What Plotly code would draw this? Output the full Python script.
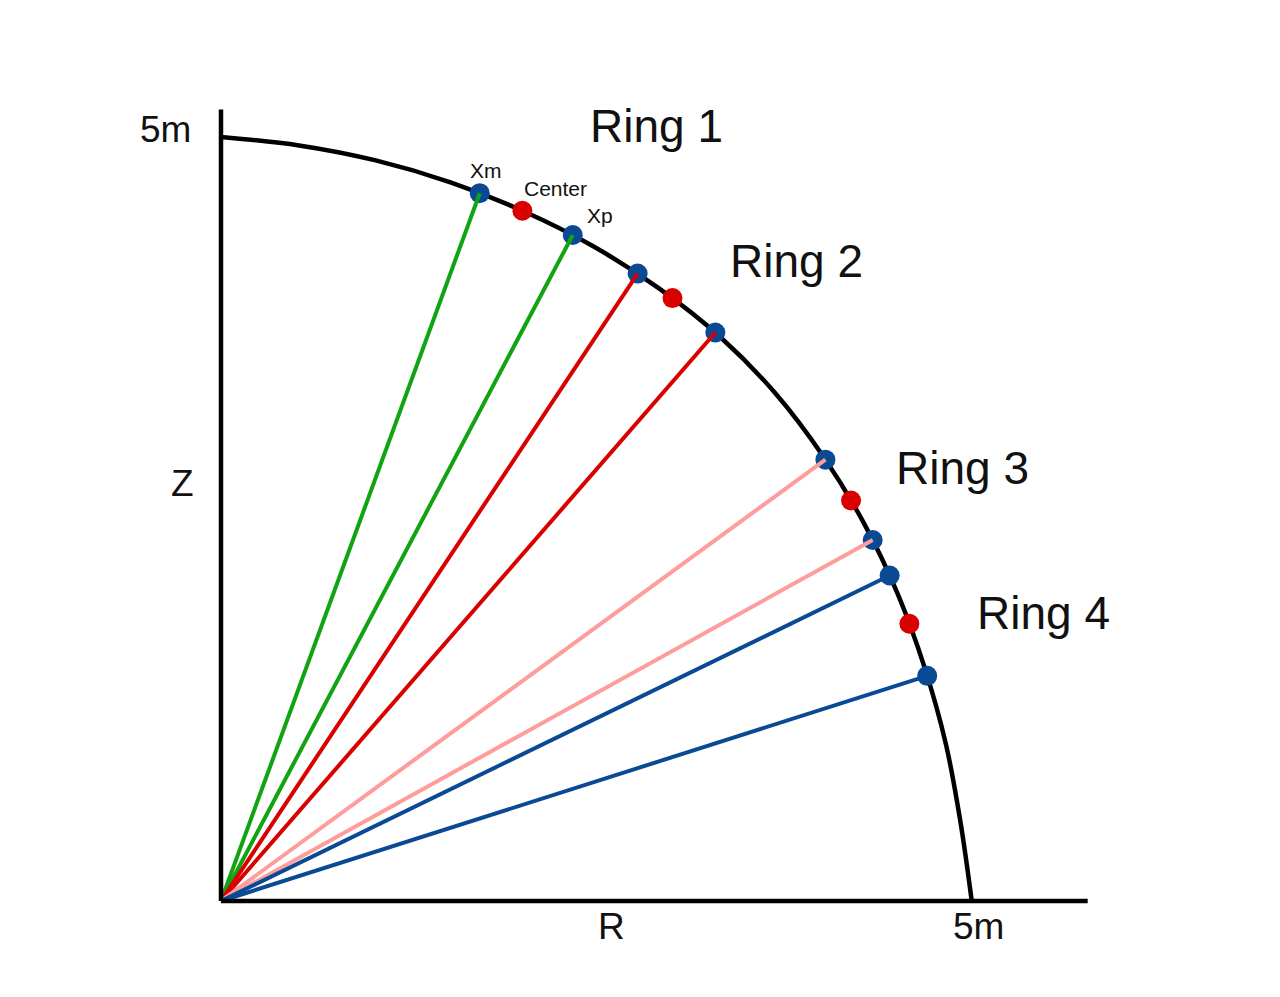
# plot.py
# Quarter-circle ring geometry sketch (R-Z plane) with Plotly

import numpy as np
import plotly.graph_objects as go

# ── data (polar: degrees from R axis, metres) ─
rings = ['Ring 1', 'Ring 2', 'Ring 3', 'Ring 4']

xm_deg = [69.6, 55.96, 35.67, 25.57]     # edge point "Xm"
xm_rad = [4.942, 4.955, 4.953, 4.935]
ctr_deg = [66.05, 52.7, 32.0, 21.6]      # ring centre
ctr_rad = [4.943, 4.960, 4.946, 4.929]
xp_deg = [61.75, 48.5, 28.57, 17.4]      # edge point "Xp"
xp_rad = [4.948, 4.967, 4.940, 4.927]

# nominal 5 m boundary, as drawn
boundary_deg = [90, 84, 78, 72, 66, 60, 54, 48, 42, 36, 30, 24, 18, 12, 6, 0]
boundary_rad = [5.000, 4.972, 4.955, 4.945, 4.943, 4.950, 4.957, 4.967,
                4.966, 4.954, 4.943, 4.933, 4.927, 4.934, 4.950, 4.998]

ray_colors = ['#12a312', '#d90000', '#ff9c9c', '#0a4a94']
EDGE_BLUE = '#0a4a94'
CENTER_RED = '#d90000'
FONT = 'Liberation Sans, Arial, Helvetica, sans-serif'


def to_rz(rad, deg):
    a = np.radians(np.asarray(deg, dtype=float))
    r = np.asarray(rad, dtype=float)
    return r * np.cos(a), r * np.sin(a)


fig = go.Figure()

# ── boundary arc ──────────────────────────────────────────────────
br, bz = to_rz(boundary_rad, boundary_deg)
fig.add_trace(go.Scatter(x=br, y=bz, mode='lines',
                         line=dict(color='black', width=4.5,
                                   shape='spline', smoothing=1.0),
                         hoverinfo='skip', showlegend=False))

# ── edge / centre markers ─────────────────────────────────────────
mr, mz = to_rz(xm_rad, xm_deg)
pr, pz = to_rz(xp_rad, xp_deg)
cr, cz = to_rz(ctr_rad, ctr_deg)
fig.add_trace(go.Scatter(x=np.concatenate([mr, pr]), y=np.concatenate([mz, pz]),
                         mode='markers', marker=dict(color=EDGE_BLUE, size=20),
                         hoverinfo='skip', showlegend=False))
fig.add_trace(go.Scatter(x=cr, y=cz, mode='markers',
                         marker=dict(color=CENTER_RED, size=20),
                         hoverinfo='skip', showlegend=False))

# ── rays from origin to each ring edge ────────────────────────────
for i, (name, col) in enumerate(zip(rings, ray_colors)):
    for er, ez in ((mr[i], mz[i]), (pr[i], pz[i])):
        fig.add_trace(go.Scatter(x=[0, er], y=[0, ez], mode='lines',
                                 line=dict(color=col, width=4),
                                 name=name, hoverinfo='skip', showlegend=False))

# ── axes drawn as plain lines ─────────────────────────────────────
fig.add_shape(type='line', x0=0, y0=0, x1=0, y1=5.18,
              line=dict(color='black', width=4.5))
fig.add_shape(type='line', x0=0, y0=0, x1=5.77, y1=0,
              line=dict(color='black', width=4.5))

# ── labels (positions taken from the 1280x997 page, 8px body margin) ─
W, H = 1264, 981
OFF = 8


def label(text, px, py, size):
    fig.add_annotation(text=text, x=(px - OFF) / W, y=1 - (py - OFF) / H,
                       xref='paper', yref='paper', showarrow=False,
                       xanchor='center', yanchor='middle',
                       font=dict(size=size, color='#111111', family=FONT))


label('Ring 1', 656, 126, 46)
label('Ring 2', 796, 261, 46)
label('Ring 3', 962, 468, 46)
label('Ring 4', 1043, 613, 46)
label('Xm', 486, 171, 21)
label('Center', 555, 188, 21)
label('Xp', 600, 215, 21)
label('5m', 165, 130, 37)
label('Z', 183, 484, 37)
label('R', 611, 926, 37)
label('5m', 978, 926, 37)

# ── layout ────────────────────────────────────────────────────────
fig.update_layout(
    width=W, height=H,
    margin=dict(l=0, r=0, t=0, b=0),
    paper_bgcolor='white', plot_bgcolor='white',
    xaxis=dict(range=[-1.418, 6.997], visible=False, fixedrange=True),
    yaxis=dict(range=[-0.576, 5.844], visible=False, fixedrange=True),
    showlegend=False,
)

fig.write_html('out.html')
